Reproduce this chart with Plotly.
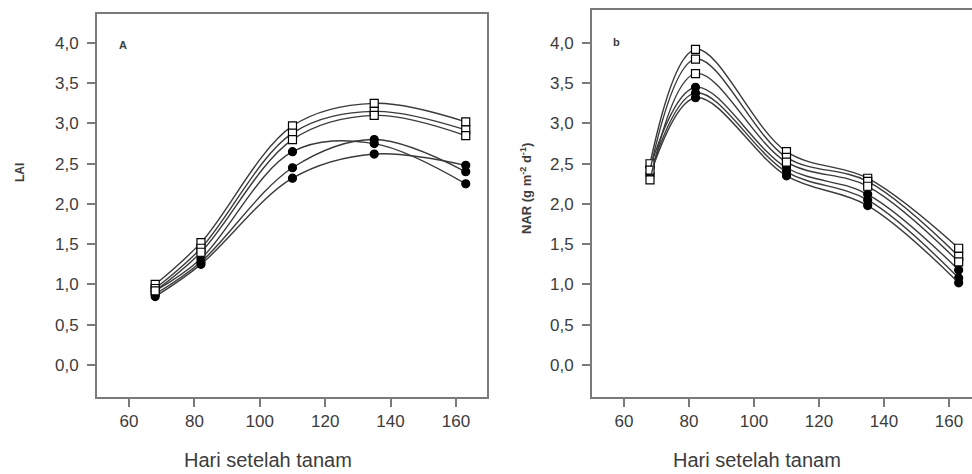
import plotly.graph_objects as go

# Sampling days after planting
days = [68, 82, 110, 135, 163]

# Panel A: leaf area index (LAI)
lai_open_1 = [1.00, 1.52, 2.97, 3.25, 3.02]
lai_open_2 = [0.95, 1.45, 2.88, 3.15, 2.92]
lai_open_3 = [0.92, 1.40, 2.80, 3.10, 2.85]
lai_fill_1 = [0.92, 1.32, 2.65, 2.75, 2.25]
lai_fill_2 = [0.88, 1.28, 2.45, 2.80, 2.40]
lai_fill_3 = [0.85, 1.25, 2.32, 2.62, 2.48]

# Panel B: net assimilation rate (NAR)
nar_open_1 = [2.50, 3.92, 2.65, 2.32, 1.45]
nar_open_2 = [2.42, 3.80, 2.58, 2.28, 1.35]
nar_open_3 = [2.30, 3.62, 2.52, 2.22, 1.28]
nar_fill_1 = [2.45, 3.45, 2.45, 2.12, 1.18]
nar_fill_2 = [2.38, 3.38, 2.40, 2.05, 1.08]
nar_fill_3 = [2.35, 3.32, 2.35, 1.98, 1.02]

y_ticks = [0.0, 0.5, 1.0, 1.5, 2.0, 2.5, 3.0, 3.5, 4.0]
x_ticks = [60, 80, 100, 120, 140, 160]

W, H = 972, 474
LINE = "#3a3a3a"
FRAME = "#7a7a7a"
TXT = "#3c3c3c"
FONT = "Liberation Sans, Arial, sans-serif"

fig = go.Figure()


def add_series(y, filled, xa, ya):
    fig.add_trace(go.Scatter(
        x=days, y=y, xaxis=xa, yaxis=ya,
        mode="lines+markers",
        line=dict(color=LINE, width=1.4, shape="spline", smoothing=1.0),
        marker=dict(
            symbol="circle" if filled else "square",
            size=8,
            color="black" if filled else "white",
            line=dict(color="black", width=1.2),
        ),
        showlegend=False, hoverinfo="skip",
    ))


for s in (lai_fill_1, lai_fill_2, lai_fill_3):
    add_series(s, True, "x", "y")
for s in (lai_open_1, lai_open_2, lai_open_3):
    add_series(s, False, "x", "y")
for s in (nar_fill_1, nar_fill_2, nar_fill_3):
    add_series(s, True, "x2", "y2")
for s in (nar_open_1, nar_open_2, nar_open_3):
    add_series(s, False, "x2", "y2")


def px_x(p):
    return p / W


def px_y(p):
    return 1 - p / H


axis_common = dict(
    showgrid=False, zeroline=False, showline=True,
    linecolor=FRAME, linewidth=2,
    ticks="outside", ticklen=8, tickwidth=1.5, tickcolor=FRAME,
    tickfont=dict(family=FONT, size=17, color=TXT),
)

fig.update_layout(
    width=W, height=H,
    margin=dict(l=0, r=0, t=0, b=0),
    paper_bgcolor="white", plot_bgcolor="white",
    separators=",.",
    xaxis=dict(domain=[px_x(97), px_x(487)], range=[50.2, 169.5],
               tickvals=x_ticks, anchor="y", mirror=True, **axis_common),
    yaxis=dict(domain=[px_y(397), px_y(14)], range=[-0.398, 4.36],
               tickvals=y_ticks, tickformat=".1f", anchor="x", mirror=True,
               ticklabelstandoff=5, **axis_common),
    xaxis2=dict(domain=[px_x(592), 1.0], range=[50.15, 167.1],
                tickvals=x_ticks, anchor="y2", mirror=True, **axis_common),
    yaxis2=dict(domain=[px_y(397), px_y(10)], range=[-0.398, 4.41],
                tickvals=y_ticks, tickformat=".1f", anchor="x2", mirror=False,
                ticklabelstandoff=5, **axis_common),
)

annotations = [
    dict(x=px_x(268), y=px_y(460), text="Hari setelah tanam",
         font=dict(family=FONT, size=20, color=TXT)),
    dict(x=px_x(757), y=px_y(460), text="Hari setelah tanam",
         font=dict(family=FONT, size=20, color=TXT)),
    dict(x=px_x(20), y=px_y(173), text="<b>LAI</b>", textangle=-90,
         font=dict(family=FONT, size=12, color=TXT)),
    dict(x=px_x(526), y=px_y(189),
         text="<b>NAR (g m<sup>-2</sup> d<sup>-1</sup>)</b>",
         textangle=-90, font=dict(family=FONT, size=13, color=TXT)),
    dict(x=px_x(123), y=px_y(45), text="<b>A</b>",
         font=dict(family=FONT, size=11, color=TXT)),
    dict(x=px_x(616), y=px_y(42), text="<b>b</b>",
         font=dict(family=FONT, size=11, color=TXT)),
]
for a in annotations:
    fig.add_annotation(xref="paper", yref="paper", showarrow=False,
                       xanchor="center", yanchor="middle", **a)

fig.write_html("out.html")
